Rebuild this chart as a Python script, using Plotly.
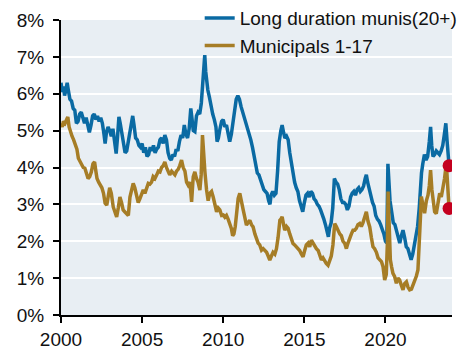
import plotly.graph_objects as go

# Long duration munis (20+) yield, %
long_dates = [
    2000.00, 2000.08, 2000.15, 2000.22, 2000.30, 2000.38, 2000.45, 2000.55, 2000.65, 2000.75,
    2000.85, 2000.95, 2001.05, 2001.15, 2001.25, 2001.35, 2001.45, 2001.55, 2001.65, 2001.75,
    2001.85, 2001.95, 2002.05, 2002.15, 2002.25, 2002.35, 2002.45, 2002.55, 2002.65, 2002.72,
    2002.80, 2002.90, 2003.00, 2003.10, 2003.20, 2003.30, 2003.40, 2003.48, 2003.57, 2003.65,
    2003.75, 2003.85, 2003.95, 2004.05, 2004.15, 2004.25, 2004.35, 2004.42, 2004.50, 2004.60,
    2004.70, 2004.80, 2004.90, 2005.00, 2005.10, 2005.20, 2005.30, 2005.40, 2005.50, 2005.60,
    2005.70, 2005.80, 2005.90, 2006.00, 2006.10, 2006.20, 2006.30, 2006.40, 2006.50, 2006.60,
    2006.70, 2006.80, 2006.90, 2007.00, 2007.10, 2007.20, 2007.30, 2007.40, 2007.50, 2007.60,
    2007.70, 2007.80, 2007.90, 2008.00, 2008.08, 2008.15, 2008.25, 2008.35, 2008.45, 2008.55,
    2008.65, 2008.72, 2008.80, 2008.86, 2008.92, 2008.98, 2009.05, 2009.15, 2009.25, 2009.35,
    2009.45, 2009.55, 2009.62, 2009.70, 2009.80, 2009.90, 2010.00, 2010.10, 2010.20, 2010.30,
    2010.40, 2010.50, 2010.60, 2010.70, 2010.80, 2010.90, 2011.00, 2011.10, 2011.20, 2011.30,
    2011.40, 2011.50, 2011.60, 2011.70, 2011.80, 2011.90, 2012.00, 2012.10, 2012.20, 2012.30,
    2012.40, 2012.50, 2012.60, 2012.70, 2012.80, 2012.88, 2012.95, 2013.05, 2013.15, 2013.25,
    2013.35, 2013.45, 2013.55, 2013.63, 2013.72, 2013.80, 2013.90, 2014.00, 2014.10, 2014.20,
    2014.30, 2014.40, 2014.50, 2014.60, 2014.70, 2014.80, 2014.90, 2015.00, 2015.10, 2015.20,
    2015.30, 2015.40, 2015.50, 2015.60, 2015.70, 2015.80, 2015.90, 2016.00, 2016.10, 2016.20,
    2016.30, 2016.40, 2016.48, 2016.55, 2016.65, 2016.75, 2016.85, 2016.95, 2017.05, 2017.15,
    2017.25, 2017.35, 2017.45, 2017.55, 2017.65, 2017.75, 2017.85, 2017.95, 2018.05, 2018.15,
    2018.25, 2018.35, 2018.45, 2018.55, 2018.65, 2018.75, 2018.82, 2018.90, 2019.00, 2019.10,
    2019.20, 2019.30, 2019.40, 2019.50, 2019.60, 2019.70, 2019.80, 2019.90, 2020.00, 2020.08,
    2020.15, 2020.20, 2020.28, 2020.38, 2020.48, 2020.58, 2020.68, 2020.78, 2020.88, 2020.98,
    2021.08, 2021.18, 2021.28, 2021.38, 2021.48, 2021.58, 2021.68, 2021.78, 2021.88, 2021.98,
    2022.08, 2022.15, 2022.22, 2022.30, 2022.40, 2022.50, 2022.60, 2022.70, 2022.78, 2022.85,
    2022.93, 2023.03, 2023.13, 2023.23, 2023.33, 2023.43, 2023.53, 2023.63, 2023.72, 2023.80,
    2023.87, 2023.92,
]
long_yield = [
    6.30, 6.05, 6.20, 5.95, 6.10, 6.30, 6.10, 5.85, 5.80, 5.60,
    5.55, 5.20, 5.25, 5.45, 5.50, 5.30, 5.20, 5.35, 5.10, 4.95,
    5.15, 5.40, 5.45, 5.30, 5.40, 5.25, 5.35, 5.20, 4.90, 4.65,
    4.95, 5.10, 5.00, 4.85, 5.05, 4.70, 4.38, 4.80, 5.37, 5.20,
    4.95, 4.70, 4.40, 4.45, 4.75, 5.00, 5.30, 5.40, 5.15, 4.80,
    4.75, 4.60, 4.55, 4.65, 4.40, 4.55, 4.30, 4.35, 4.55, 4.45,
    4.60, 4.40, 4.50, 4.55, 4.75, 4.80, 4.65, 4.88, 4.75, 4.40,
    4.25, 4.20, 4.35, 4.30, 4.50, 4.45, 4.70, 4.88, 4.80, 5.15,
    4.90, 4.80, 5.05, 5.60, 5.30, 5.00, 4.97, 5.40, 5.50, 5.45,
    5.75, 6.30, 6.60, 7.05, 6.60, 6.25, 6.10, 5.90, 5.60, 5.45,
    5.30, 5.10, 4.70, 4.80, 5.05, 5.25, 5.30, 5.10, 5.15, 4.95,
    4.70, 4.90, 5.20, 5.60, 5.85, 5.95, 5.85, 5.65, 5.50, 5.40,
    5.25, 5.05, 4.90, 4.75, 4.55, 4.35, 4.05, 3.85, 3.80, 3.65,
    3.55, 3.40, 3.35, 3.30, 3.10, 3.00, 3.25, 3.35, 3.25, 3.30,
    3.90, 4.70, 5.00, 5.15, 4.95, 4.80, 4.85, 4.75, 4.40, 4.10,
    3.80, 3.60, 3.45, 3.35, 3.10, 2.95, 2.80, 3.05, 3.25, 3.30,
    3.20, 3.35, 3.30, 3.15, 3.10, 3.00, 2.95, 2.85, 2.75, 2.60,
    2.45, 2.20, 2.12, 2.35, 2.50, 2.90, 3.70, 3.60, 3.55, 3.40,
    3.15, 3.05, 3.05, 3.00, 2.85, 2.95, 3.20, 3.30, 3.35, 3.25,
    3.40, 3.45, 3.35, 3.40, 3.50, 3.70, 3.80, 3.60, 3.40, 3.20,
    3.05, 2.95, 2.70, 2.60, 2.55, 2.45, 2.35, 2.20, 2.00, 1.95,
    4.10, 3.60, 3.10, 2.80, 2.50, 2.45, 2.30, 2.15, 1.95, 2.15,
    2.30, 2.10, 1.85, 1.80, 1.65, 1.50, 1.65, 1.90, 2.10, 2.40,
    2.90, 3.50, 3.85, 4.10, 4.35, 4.20, 4.30, 4.70, 5.10, 4.60,
    4.30, 4.35, 4.45, 4.40, 4.35, 4.45, 4.60, 4.90, 5.20, 4.70,
    4.35, 4.05,
]

# Municipals 1-17 yield, %
short_dates = [
    2000.00, 2000.08, 2000.15, 2000.25, 2000.35, 2000.42, 2000.50, 2000.58, 2000.68, 2000.78,
    2000.88, 2000.98, 2001.07, 2001.17, 2001.27, 2001.37, 2001.47, 2001.57, 2001.67, 2001.77,
    2001.87, 2001.97, 2002.07, 2002.15, 2002.22, 2002.32, 2002.42, 2002.52, 2002.62, 2002.72,
    2002.82, 2002.92, 2003.00, 2003.10, 2003.22, 2003.32, 2003.43, 2003.53, 2003.63, 2003.73,
    2003.83, 2003.93, 2004.05, 2004.15, 2004.25, 2004.35, 2004.45, 2004.55, 2004.65, 2004.76,
    2004.86, 2004.96, 2005.07, 2005.17, 2005.28, 2005.38, 2005.48, 2005.58, 2005.68, 2005.79,
    2005.90, 2006.00, 2006.10, 2006.20, 2006.30, 2006.40, 2006.50, 2006.60, 2006.70, 2006.82,
    2006.92, 2007.02, 2007.12, 2007.22, 2007.32, 2007.43, 2007.53, 2007.64, 2007.74, 2007.84,
    2007.95, 2008.05, 2008.15, 2008.25, 2008.35, 2008.45, 2008.56, 2008.64, 2008.72, 2008.80,
    2008.87, 2008.97, 2009.07, 2009.17, 2009.28, 2009.38, 2009.48, 2009.59, 2009.69, 2009.79,
    2009.90, 2010.00, 2010.10, 2010.20, 2010.30, 2010.40, 2010.50, 2010.58, 2010.66, 2010.74,
    2010.82, 2010.92, 2011.02, 2011.13, 2011.23, 2011.33, 2011.43, 2011.53, 2011.64, 2011.74,
    2011.84, 2011.95, 2012.05, 2012.15, 2012.25, 2012.36, 2012.46, 2012.57, 2012.67, 2012.77,
    2012.87, 2012.97, 2013.07, 2013.18, 2013.28, 2013.38, 2013.49, 2013.56, 2013.63, 2013.72,
    2013.79, 2013.90, 2014.00, 2014.10, 2014.20, 2014.30, 2014.40, 2014.50, 2014.61, 2014.71,
    2014.82, 2014.92, 2015.02, 2015.12, 2015.23, 2015.33, 2015.43, 2015.53, 2015.64, 2015.74,
    2015.85, 2015.95, 2016.05, 2016.15, 2016.25, 2016.35, 2016.46, 2016.56, 2016.66, 2016.76,
    2016.87, 2016.97, 2017.07, 2017.18, 2017.28, 2017.38, 2017.49, 2017.59, 2017.69, 2017.80,
    2017.90, 2018.00, 2018.10, 2018.20, 2018.30, 2018.41, 2018.51, 2018.61, 2018.72, 2018.82,
    2018.92, 2019.03, 2019.13, 2019.23, 2019.33, 2019.44, 2019.54, 2019.64, 2019.75, 2019.85,
    2019.95, 2020.05, 2020.12, 2020.16, 2020.22, 2020.30, 2020.38, 2020.46, 2020.56, 2020.67,
    2020.77, 2020.87, 2020.98, 2021.08, 2021.18, 2021.29, 2021.39, 2021.49, 2021.60, 2021.70,
    2021.80, 2021.90, 2022.00, 2022.08, 2022.15, 2022.21, 2022.31, 2022.41, 2022.52, 2022.62,
    2022.70, 2022.78, 2022.86, 2022.93, 2023.03, 2023.13, 2023.23, 2023.34, 2023.44, 2023.54,
    2023.64, 2023.75, 2023.82, 2023.92,
]
short_yield = [
    5.20, 5.10, 5.25, 5.20, 5.30, 5.37, 5.10, 4.95, 4.85, 4.75,
    4.60, 4.50, 4.25, 4.15, 4.10, 4.00, 3.98, 3.85, 3.70, 3.75,
    3.88, 4.10, 4.15, 3.90, 3.70, 3.60, 3.52, 3.45, 3.30, 3.03,
    2.98, 3.30, 3.45, 3.30, 2.93, 2.80, 2.66, 2.90, 3.20, 3.05,
    2.85, 2.80, 2.75, 2.70, 3.20, 3.45, 3.57, 3.45, 3.30, 3.05,
    3.15, 3.30, 3.39, 3.30, 3.45, 3.57, 3.55, 3.60, 3.75, 3.70,
    3.80, 3.90, 3.88, 4.00, 4.05, 4.15, 4.00, 3.88, 3.80, 3.90,
    3.85, 3.80, 3.90, 3.95, 4.05, 4.20, 4.00, 3.90, 3.60, 3.52,
    3.60, 3.07, 3.75, 3.88, 3.70, 3.60, 3.39, 3.80, 4.88, 4.10,
    3.88, 3.40, 3.10, 3.30, 3.35, 3.20, 3.00, 2.80, 2.90, 2.85,
    2.70, 2.71, 2.65, 2.70, 2.60, 2.50, 2.35, 2.15, 2.20, 2.40,
    2.80, 3.16, 3.30, 3.00, 2.85, 2.65, 2.44, 2.50, 2.57, 2.45,
    2.39, 2.20, 2.03, 1.95, 1.90, 1.76, 1.80, 1.75, 1.70, 1.60,
    1.49, 1.60, 1.70, 1.65, 1.80, 2.10, 2.57, 2.60, 2.66, 2.45,
    2.30, 2.40, 2.35, 2.20, 2.05, 1.94, 1.90, 1.85, 1.80, 1.75,
    1.65, 1.58, 1.75, 1.90, 1.95, 1.85, 2.03, 1.95, 1.85, 1.80,
    1.75, 1.60, 1.49, 1.55, 1.45, 1.40, 1.35, 1.45, 1.60, 1.90,
    2.48, 2.40, 2.30, 2.20, 2.15, 2.00, 1.94, 1.80, 1.95, 2.12,
    2.20, 2.30, 2.30, 2.35, 2.45, 2.48, 2.40, 2.50, 2.65, 2.80,
    2.55, 2.39, 2.10, 1.85, 1.80, 1.70, 1.55, 1.49, 1.45, 1.31,
    0.95, 1.10, 2.00, 3.35, 2.20, 1.50, 1.30, 1.13, 1.05, 0.86,
    1.00, 0.95, 0.80, 0.68, 0.85, 0.90, 0.75, 0.68, 0.70, 0.80,
    0.90, 1.05, 1.22, 1.80, 2.60, 3.21, 3.00, 2.76, 3.10, 3.25,
    3.50, 3.93, 3.40, 3.10, 2.80, 2.75, 3.10, 3.30, 3.20, 3.43,
    3.70, 4.11, 3.66, 2.89,
]

series_names = ["Long duration munis(20+)", "Municipals 1-17"]
series_colors = ["#0a6aa3", "#a67d26"]
latest_color = "#c4001f"

x_ticks = [2000, 2005, 2010, 2015, 2020]
y_ticks = [0, 1, 2, 3, 4, 5, 6, 7, 8]
y_tick_labels = [f"{v}%" for v in y_ticks]

fig = go.Figure()
for i, (xs, ys) in enumerate([(long_dates, long_yield), (short_dates, short_yield)]):
    fig.add_trace(go.Scatter(
        x=xs, y=ys, mode="lines", name=series_names[i],
        legendgroup=f"g{i}",
        line=dict(color=series_colors[i], width=3.5),
    ))

# Latest reading of each series
fig.add_trace(go.Scatter(
    x=[long_dates[-1], short_dates[-1]],
    y=[long_yield[-1], short_yield[-1]],
    mode="markers", showlegend=False,
    marker=dict(color=latest_color, size=13, line=dict(width=0)),
))

fig.update_layout(
    width=473, height=349,
    margin=dict(l=61, r=21, t=20, b=34, autoexpand=False),
    paper_bgcolor="white",
    plot_bgcolor="#e8eef3",
    font=dict(family="Liberation Sans, Arial, sans-serif", size=19, color="#111111"),
    showlegend=True,
    legend=dict(
        x=0.3547, y=1.071, xanchor="left", yanchor="top",
        bgcolor="rgba(0,0,0,0)", borderwidth=0,
        font=dict(size=19, color="#111111"),
        tracegroupgap=0, traceorder="grouped",
        itemwidth=30,
    ),
)
fig.update_xaxes(
    range=[2000, 2024.1], tickvals=x_ticks, ticktext=[str(t) for t in x_ticks],
    showgrid=False, zeroline=False,
    showline=True, linecolor="black", linewidth=2,
    ticks="outside", ticklen=6, tickwidth=2, tickcolor="black",
)
fig.update_yaxes(
    range=[0, 8], tickvals=y_ticks, ticktext=y_tick_labels,
    showgrid=True, gridcolor="white", gridwidth=2, zeroline=False,
    showline=True, linecolor="black", linewidth=2,
    ticks="outside", ticklen=6, tickwidth=2, tickcolor="black",
    ticklabelstandoff=5,
)

fig.write_html("out.html")
